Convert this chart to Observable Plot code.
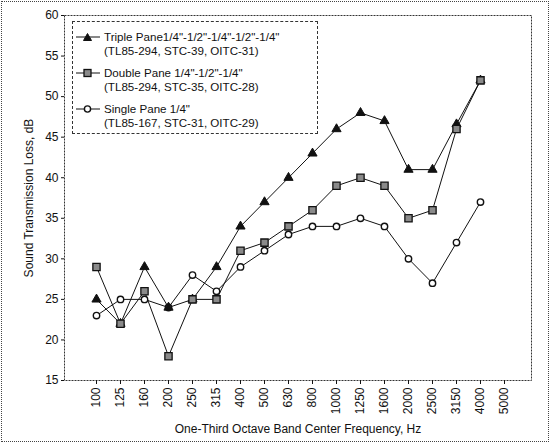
<!DOCTYPE html>
<html>
<head>
<meta charset="utf-8">
<script src="https://cdn.jsdelivr.net/npm/d3@7"></script>
<script src="https://cdn.jsdelivr.net/npm/@observablehq/plot@0.6"></script>
<style>
  html, body { margin: 0; padding: 0; background: #fff; }
  #wrap { position: relative; width: 550px; height: 443px; font-family: "Liberation Sans", Arial, sans-serif; color: #111; }
  #border { position: absolute; left: 1px; top: 1px; width: 546px; height: 439px; border: 1px dotted #444; pointer-events: none; }
  #legend { position: absolute; left: 72px; top: 21px; width: 244px; height: 111px; border: 1px dashed #333; background: #fff; font-size: 11.6px; line-height: 14.4px; }
  .row { position: absolute; left: 2px; }
  .row svg { position: absolute; left: 0; top: 2px; }
  .row .t { position: absolute; left: 29px; top: 0; white-space: nowrap; }
</style>
</head>
<body>
<div id="wrap">
  <div id="chart"></div>
  <div id="legend"></div>
  <div id="border"></div>
</div>
<script>
const freqs = ["100","125","160","200","250","315","400","500","630","800","1000","1250","1600","2000","2500","3150","4000","5000"];
const dataFreqs = freqs.slice(0, 17);
const tripleVals = [25,22,29,24,25,29,34,37,40,43,46,48,47,41,41,46.6,52];
const doubleVals = [29,22,26,18,25,25,31,32,34,36,39,40,39,35,36,46,52];
const singleVals = [23,25,25,24,28,26,29,31,33,34,34,35,34,30,27,32,37];
const yTicks = [15,20,25,30,35,40,45,50,55,60];

const seriesNames = ["Triple", "Double", "Single"];
const legendLines = [
  ["Triple Pane1/4\"-1/2\"-1/4\"-1/2\"-1/4\"", "(TL85-294, STC-39, OITC-31)"],
  ["Double Pane 1/4\"-1/2\"-1/4\"", "(TL85-294, STC-35, OITC-28)"],
  ["Single Pane 1/4\"", "(TL85-167, STC-31, OITC-29)"]
];

const rows = [];
[[ "Triple", tripleVals ], [ "Double", doubleVals ], [ "Single", singleVals ]].forEach(([s, vals]) => {
  vals.forEach((v, i) => rows.push({series: s, freq: dataFreqs[i], value: v}));
});
const by = s => rows.filter(d => d.series === s);

const chart = Plot.plot({
  width: 550,
  height: 443,
  marginLeft: 64,
  marginRight: 19,
  marginTop: 15,
  marginBottom: 63,
  style: { fontFamily: "Liberation Sans, Arial, sans-serif", fontSize: "12px", color: "#111", background: "#fff" },
  x: { type: "point", domain: freqs, range: [80, 520] },
  y: { domain: [15, 60] },
  marks: [
    Plot.frame({ stroke: "#333", strokeWidth: 1, strokeDasharray: "2,1" }),
    Plot.axisY({ ticks: yTicks, tickSize: 3, tickPadding: 3, fontSize: 12,
      label: "Sound Transmission Loss, dB", labelAnchor: "center", labelArrow: "none", labelOffset: 40 }),
    Plot.axisX({ ticks: freqs, tickSize: 4, tickPadding: 3, tickRotate: -90, fontSize: 12,
      label: "One-Third Octave Band Center Frequency, Hz", labelAnchor: "center", labelArrow: "none", labelOffset: 52 }),
    Plot.line(by("Single"), { x: "freq", y: "value", stroke: "#111", strokeWidth: 1 }),
    Plot.line(by("Triple"), { x: "freq", y: "value", stroke: "#111", strokeWidth: 1 }),
    Plot.line(by("Double"), { x: "freq", y: "value", stroke: "#111", strokeWidth: 1 }),
    Plot.dot(by("Single"), { x: "freq", y: "value", symbol: "circle", r: 3.2, fill: "#fff", stroke: "#111", strokeWidth: 1.4 }),
    Plot.dot(by("Triple"), { x: "freq", y: "value", symbol: "triangle", r: 3.4, fill: "#111", stroke: "#111", strokeWidth: 1 }),
    Plot.dot(by("Double"), { x: "freq", y: "value", symbol: "square", r: 4.1, fill: "#8a8a8a", stroke: "#111", strokeWidth: 1.3 })
  ]
});
document.getElementById("chart").appendChild(chart);

// legend
const legend = document.getElementById("legend");
const symbolsSvg = [
  '<polygon points="12.5,1.5 16.5,8.5 8.5,8.5" fill="#111" stroke="#111"/>',
  '<rect x="9" y="1.5" width="7" height="7" fill="#8a8a8a" stroke="#111" stroke-width="1.3"/>',
  '<circle cx="12.5" cy="5" r="3.1" fill="#fff" stroke="#111" stroke-width="1.4"/>'
];
const rowTops = [8, 44, 80];
seriesNames.forEach((s, i) => {
  const div = document.createElement("div");
  div.className = "row";
  div.style.top = rowTops[i] + "px";
  div.innerHTML = '<svg width="27" height="10"><line x1="1" y1="5" x2="25" y2="5" stroke="#111" stroke-width="1"/>' + symbolsSvg[i] + '</svg>';
  const t = document.createElement("div");
  t.className = "t";
  legendLines[i].forEach(line => {
    const span = document.createElement("div");
    span.textContent = line;
    t.appendChild(span);
  });
  div.appendChild(t);
  legend.appendChild(div);
});
</script>
</body>
</html>
